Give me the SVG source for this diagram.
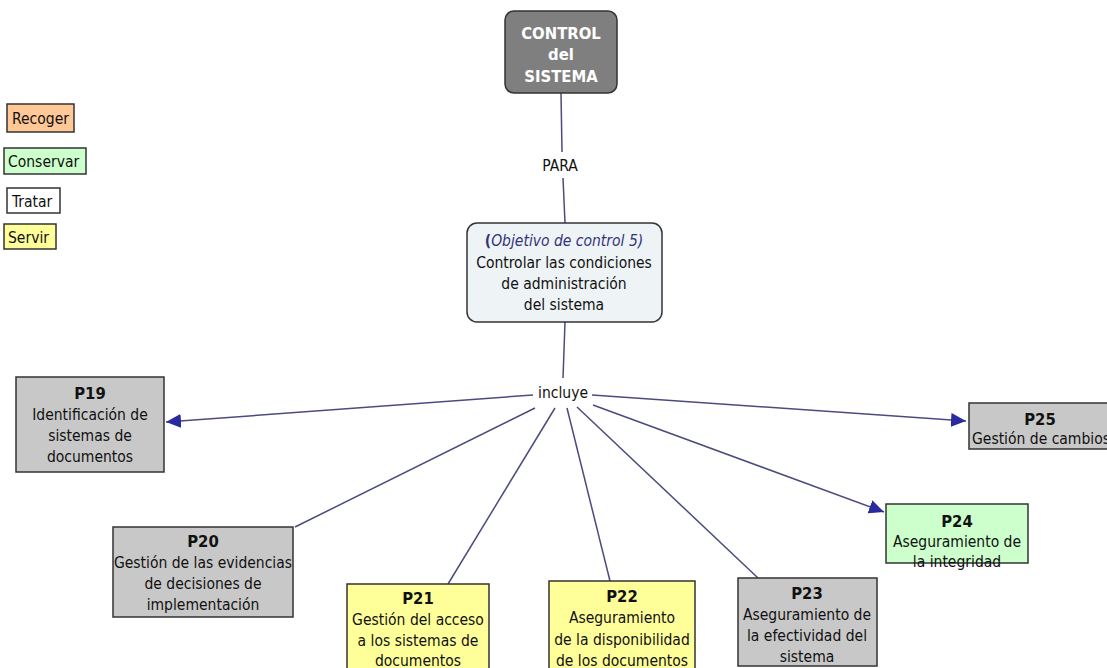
<svg xmlns="http://www.w3.org/2000/svg" width="1107" height="668" viewBox="0 0 1107 668">
<defs>
<style>
text{font-family:"DejaVu Sans Condensed","DejaVu Sans",sans-serif;font-stretch:condensed;font-size:15.5px;fill:#111;text-anchor:middle;}
.b{font-weight:bold;font-size:16.5px;}
.box{stroke:#333;stroke-width:1.5;}
.gray{fill:#c8c8c8;}
.yel{fill:#ffff99;}
.grn{fill:#ccffcc;}
.org{fill:#ffc896;}
.wht{fill:#ffffff;}
.ln{stroke:#4b4b80;stroke-width:1.5;fill:none;}
.lg{text-anchor:start;}
</style>
<marker id="ah" markerUnits="userSpaceOnUse" markerWidth="16" markerHeight="14" refX="15" refY="7" orient="auto">
<path d="M0,0 L15,7 L0,14 Z" fill="#2a2aa0"/>
</marker>
</defs>
<rect width="1107" height="668" fill="#ffffff"/>

<g id="legend">
<rect class="box org" x="7" y="104" width="67" height="28"/>
<text class="lg" x="12" y="124">Recoger</text>
<rect class="box grn" x="4" y="148" width="82" height="26"/>
<text class="lg" x="8" y="167">Conservar</text>
<rect class="box wht" x="7" y="188" width="53" height="25"/>
<text class="lg" x="12" y="207">Tratar</text>
<rect class="box yel" x="4" y="224" width="52" height="25"/>
<text class="lg" x="8" y="243">Servir</text>
</g>

<g id="connectors">
<line class="ln" x1="561" y1="93" x2="562" y2="152"/>
<line class="ln" x1="563" y1="178" x2="565" y2="223"/>
<line class="ln" x1="565" y1="322" x2="563" y2="378"/>
<line class="ln" x1="533" y1="395" x2="166" y2="422" marker-end="url(#ah)"/>
<line class="ln" x1="592" y1="395" x2="966" y2="421" marker-end="url(#ah)"/>
<line class="ln" x1="535" y1="408" x2="295" y2="527"/>
<line class="ln" x1="555" y1="408" x2="448" y2="584"/>
<line class="ln" x1="567" y1="408" x2="610" y2="581"/>
<line class="ln" x1="577" y1="407" x2="758" y2="578"/>
<line class="ln" x1="593" y1="405" x2="884" y2="512" marker-end="url(#ah)"/>
<text x="560" y="171">PARA</text>
<text x="563" y="398">incluye</text>
</g>

<g id="control">
<rect x="505" y="11" width="112" height="82" rx="9" fill="#7f7f7f" stroke="#333" stroke-width="1.5"/>
<text class="b" x="561" y="39" style="fill:#fff">CONTROL</text>
<text class="b" x="561" y="60" style="fill:#fff">del</text>
<text class="b" x="561" y="82" style="fill:#fff">SISTEMA</text>
</g>

<g id="objetivo">
<rect x="467" y="223" width="195" height="99" rx="10" fill="#eef3f5" stroke="#333" stroke-width="1.5"/>
<text x="564" y="246" style="fill:#33337a"><tspan font-weight="bold">(</tspan><tspan font-style="italic">Objetivo de control 5)</tspan></text>
<text x="564" y="268">Controlar las condiciones</text>
<text x="564" y="289">de administración</text>
<text x="564" y="310">del sistema</text>
</g>

<g id="p19">
<rect class="box gray" x="16" y="377" width="148" height="95"/>
<text class="b" x="90" y="399">P19</text>
<text x="90" y="420">Identificación de</text>
<text x="90" y="441">sistemas de</text>
<text x="90" y="462">documentos</text>
</g>

<g id="p25">
<rect class="box gray" x="969" y="403" width="150" height="46"/>
<text class="b" x="1040" y="425">P25</text>
<text class="lg" x="972" y="444">Gestión de cambios</text>
</g>

<g id="p20">
<rect class="box gray" x="113" y="527" width="180" height="90"/>
<text class="b" x="203" y="547">P20</text>
<text x="203" y="568">Gestión de las evidencias</text>
<text x="203" y="589">de decisiones  de</text>
<text x="203" y="610">implementación</text>
</g>

<g id="p21">
<rect class="box yel" x="347" y="584" width="142" height="90"/>
<text class="b" x="418" y="604">P21</text>
<text x="418" y="625">Gestión del acceso</text>
<text x="418" y="646">a los sistemas de</text>
<text x="418" y="666">documentos</text>
</g>

<g id="p22">
<rect class="box yel" x="549" y="581" width="146" height="92"/>
<text class="b" x="622" y="602">P22</text>
<text x="622" y="623">Aseguramiento</text>
<text x="622" y="645">de la disponibilidad</text>
<text x="622" y="666">de los documentos</text>
</g>

<g id="p23">
<rect class="box gray" x="738" y="578" width="139" height="88"/>
<text class="b" x="807" y="599">P23</text>
<text x="807" y="620">Aseguramiento de</text>
<text x="807" y="641">la efectividad del</text>
<text x="807" y="662">sistema</text>
</g>

<g id="p24">
<rect class="box grn" x="886" y="504" width="142" height="59"/>
<text class="b" x="957" y="527">P24</text>
<text x="957" y="547">Aseguramiento de</text>
<text x="957" y="567">la integridad</text>
</g>
</svg>
